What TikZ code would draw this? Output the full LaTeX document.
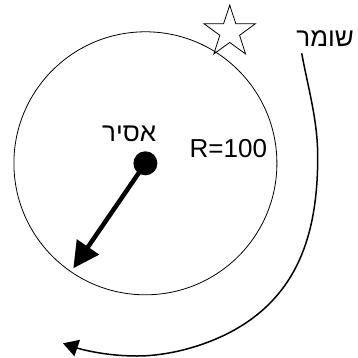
\documentclass[tikz,border=0pt]{standalone}
\usepackage{fontspec}
\setmainfont{Liberation Sans}
\newfontfamily\heb[Script=Hebrew]{Liberation Sans}
\TeXXeTstate=1
\usetikzlibrary{arrows.meta,shapes.geometric}
\begin{document}
\begin{tikzpicture}[x=1pt,y=-1pt,
  lbl/.style={font=\fontsize{26}{30}\selectfont, inner sep=0pt, anchor=base},
  hlbl/.style={font=\heb\fontsize{26}{30}\selectfont, inner sep=0pt, anchor=base},
  thin line/.style={line width=0.8pt}]
\useasboundingbox (0,0) rectangle (357,358);
\node[circle, draw, thin line, minimum size=263pt, inner sep=0pt] (circ) at (145.4,163.3) {};
\node[circle, fill, minimum size=24pt, inner sep=0pt] (dot) at (145.4,163.3) {};
\coordinate (tip) at (73.3,268.3);
\draw[line width=4.5pt, -{Triangle[length=26pt,width=26pt]}] (dot.center) -- (tip);
\node[star, star points=5, star point ratio=2.6, draw, thin line, minimum size=54pt, inner sep=0pt] (star) at (229.7,32.1) {};
\coordinate (g0) at (301.7,53.3);
\coordinate (g1) at (317.7,157);
\coordinate (g2) at (240,326.7);
\coordinate (g3) at (137,356);
\coordinate (g4) at (63,343.3);
\draw[line width=1.5pt, -{Triangle[length=15pt,width=17pt]}] (g0) .. controls (308.5,90) and (317.7,120) .. (g1) .. controls (317.7,230) and (300,290) .. (g2) .. controls (210,345) and (170,356) .. (g3) .. controls (105,356) and (80,349) .. (g4);
\node[hlbl] (asir) at (129.2,141.7) {\beginR אסיר\endR};
\node[lbl] (R) at (228.3,157.7) {R=100};
\node[hlbl] (shomer) at (325.2,46.7) {\beginR שומר\endR};
\end{tikzpicture}
\end{document}
